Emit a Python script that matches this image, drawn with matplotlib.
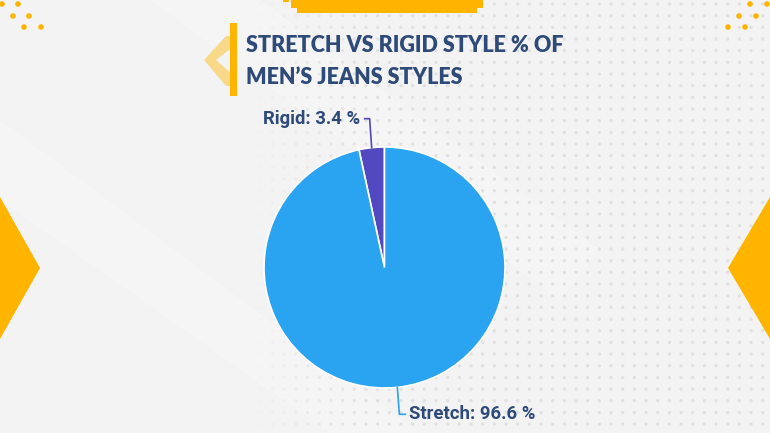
import numpy as np
import matplotlib
matplotlib.use('Agg')
import matplotlib.pyplot as plt
from matplotlib.patches import Polygon, Rectangle, Circle

# data
labels = ['Rigid', 'Stretch']
values = [3.4, 96.6]
colors = ['#5249C1', '#2AA4F0']
title_lines = ['STRETCH VS RIGID STYLE % OF', 'MEN\u2019S JEANS STYLES']

W, H = 770, 433
ORANGE = '#FFB400'
NAVY = '#2E4A78'


def Y(y):
    # pixel row (from top) -> axes y
    return H - y


fig = plt.figure(figsize=(W / 100, H / 100), dpi=100)
fig.patch.set_facecolor('#F3F3F3')
ax = fig.add_axes([0, 0, 1, 1])
ax.set_xlim(0, W)
ax.set_ylim(0, H)
ax.set_aspect('equal')
ax.axis('off')

# faint diagonal light bands in the background
ax.add_patch(Polygon([(0, Y(120)), (0, Y(200)), (330, Y(433)), (420, Y(433))],
                     closed=True, fc='white', ec='none', alpha=0.18, zorder=0))
ax.add_patch(Polygon([(150, Y(0)), (260, Y(0)), (600, Y(250)), (560, Y(300))],
                     closed=True, fc='white', ec='none', alpha=0.18, zorder=0))

# dotted texture
xs = np.arange(506 - 11.67 * 22, W + 5, 11.67)
ys = np.arange(120.7 - 11.67 * 11, H + 5, 11.67)
gx, gy = np.meshgrid(xs, ys)
gx, gy = gx.ravel(), gy.ravel()
fade = np.clip((gx - 250) / 120, 0, 1)
rgba = np.zeros((len(gx), 4))
rgba[:, :3] = 0.87
rgba[:, 3] = fade * 0.85
ax.scatter(gx, Y(gy), s=6, c=rgba, linewidths=0, zorder=1)

# side triangles
ax.add_patch(Polygon([(0, Y(197)), (40, Y(268)), (0, Y(339))], closed=True,
                     fc=ORANGE, ec='none', zorder=2))
ax.add_patch(Polygon([(W, Y(197)), (728, Y(268)), (W, Y(339))], closed=True,
                     fc=ORANGE, ec='none', zorder=2))

# corner dots
for cx, cy in [(2, 4), (18, 4), (13, 16), (29, 16), (24, 27), (41, 27),
               (750, 4), (767, 4), (739, 16), (756, 16), (728, 27), (745, 27)]:
    ax.add_patch(Circle((cx, Y(cy)), 2.8, fc=ORANGE, ec='none', zorder=2))

# top bar
ax.add_patch(Rectangle((297, Y(13)), 180, 13, fc=ORANGE, ec='none', zorder=2))
ax.add_patch(Rectangle((291, Y(8)), 6, 8, fc=ORANGE, ec='none', zorder=2))
ax.add_patch(Rectangle((477, Y(8)), 6, 8, fc=ORANGE, ec='none', zorder=2))
ax.add_patch(Rectangle((283, Y(2)), 6, 2, fc=ORANGE, ec='none', zorder=2))

# title decoration
ax.add_patch(Polygon([(226, Y(36)), (204, Y(60)), (226, Y(86)), (234, Y(86)),
                      (234, Y(76)), (216, Y(60)), (234, Y(46)), (234, Y(36))],
                     closed=True, fc='#F9D57E', ec='none', alpha=0.9, zorder=2))
ax.add_patch(Rectangle((230, Y(96)), 7, 73, fc=ORANGE, ec='none', zorder=3))

for i, line in enumerate(title_lines):
    ax.text(246, Y(45 + 32 * i), line, fontsize=15.5, family='Lato',
            fontweight='heavy', color=NAVY, ha='left', va='center', zorder=4)

# pie
cx, cy, r = 384.5, Y(267.5), 120.5
wedges, _ = ax.pie(values, colors=colors, startangle=90, counterclock=True,
                   center=(cx, cy), radius=r, frame=True,
                   wedgeprops=dict(edgecolor='white', linewidth=1.2))
for w in wedges:
    w.set_zorder(5)
ax.set_xlim(0, W)
ax.set_ylim(0, H)
ax.axis('off')

# labels with leader lines
for w, lab, val, col in zip(wedges, labels, values, colors):
    ang = np.deg2rad((w.theta1 + w.theta2) / 2)
    px, py = cx + r * np.cos(ang), cy + r * np.sin(ang)
    txt = f'{lab}: {val} %'
    if np.sin(ang) > 0:
        ey = py + 29
        ax.plot([px, px - 2, px - 7], [py, ey, ey], color=col, lw=1.2, zorder=6)
        ax.text(px - 12, ey, txt, ha='right', va='center', fontsize=13.3,
                family='Roboto', fontweight='bold', color=NAVY, zorder=6)
    else:
        ey = py - 27
        ax.plot([px, px + 2, px + 8], [py, ey, ey], color=col, lw=1.2, zorder=6)
        ax.text(px + 12, ey, txt, ha='left', va='center', fontsize=13.3,
                family='Roboto', fontweight='bold', color=NAVY, zorder=6)

fig.savefig('out.png', dpi=100, facecolor=fig.get_facecolor())
